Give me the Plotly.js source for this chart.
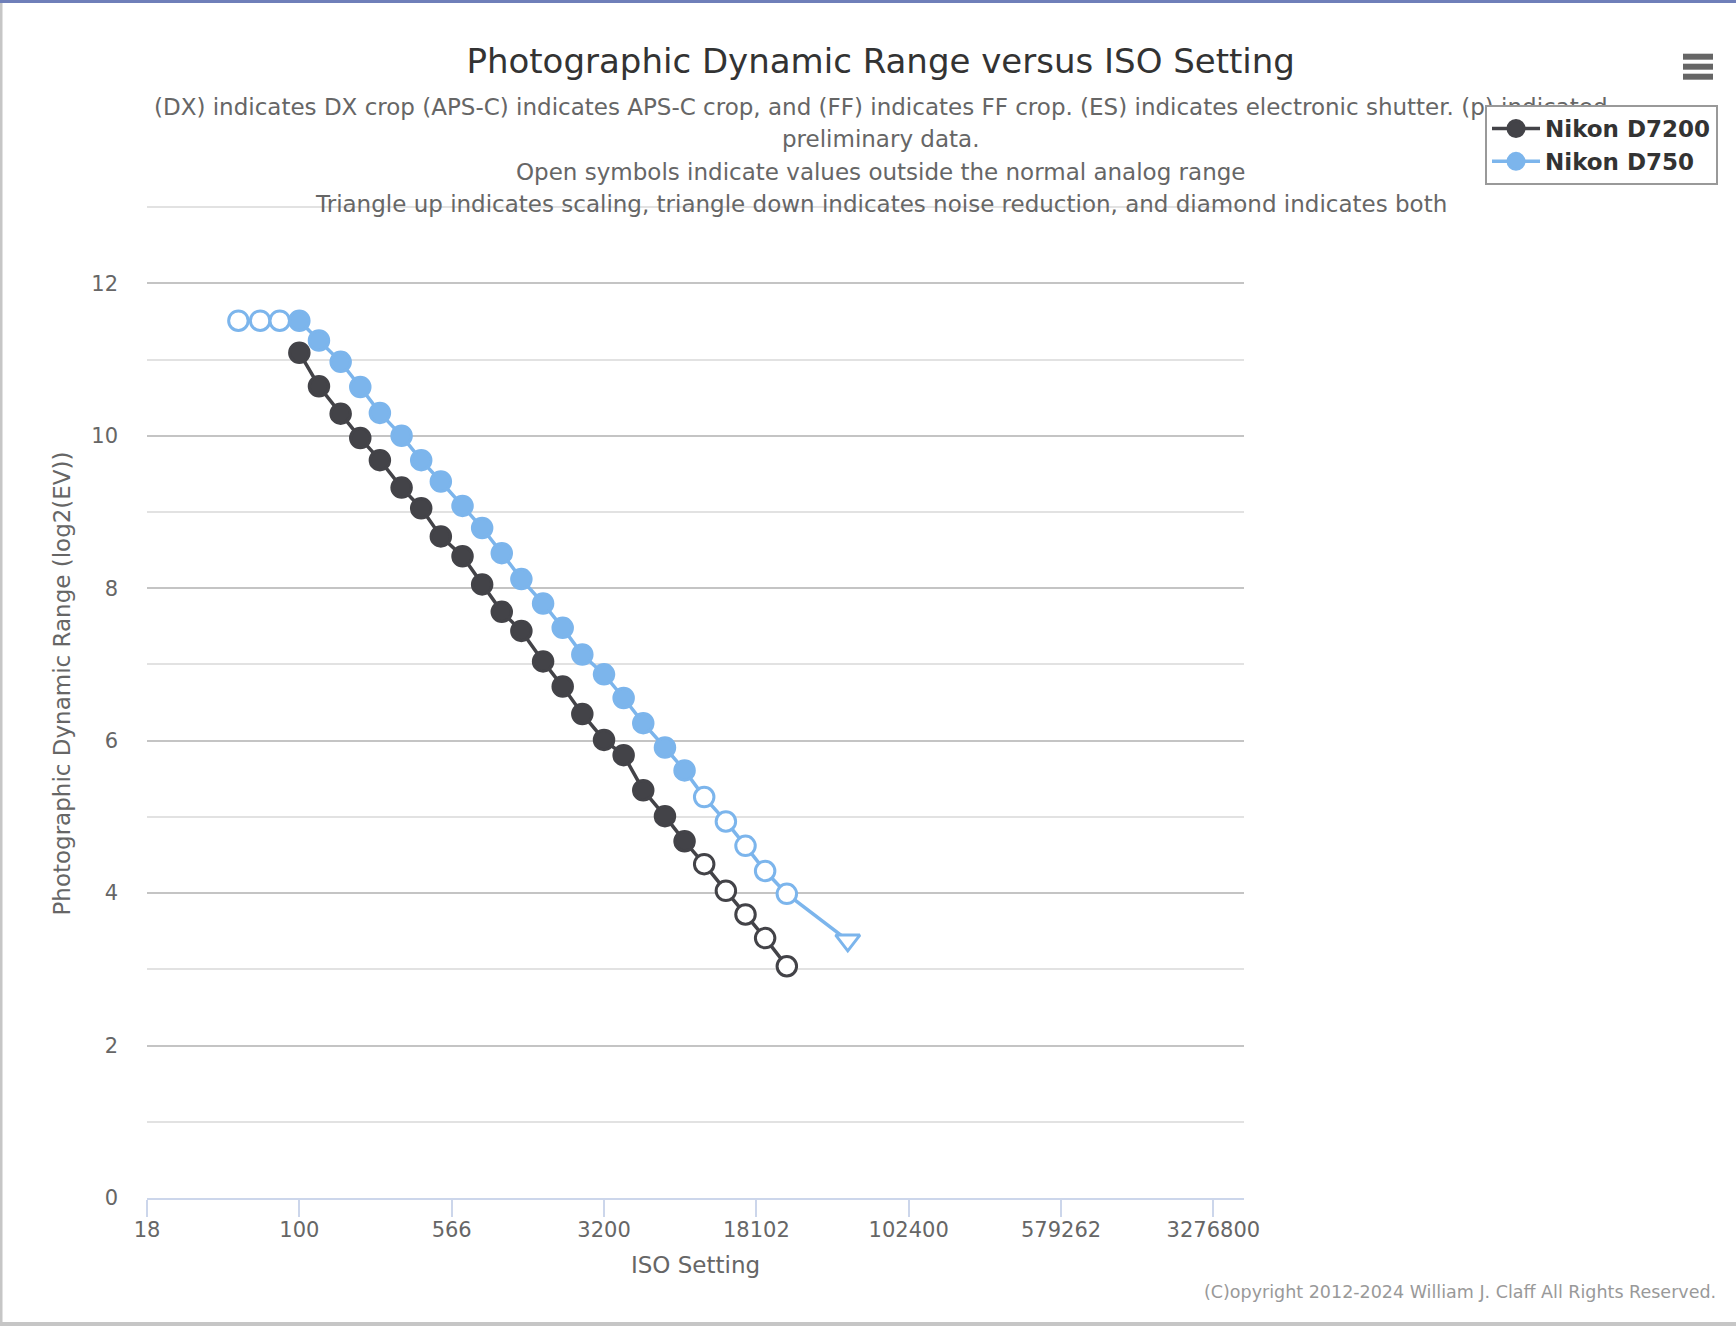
<!DOCTYPE html>
<html>
<head>
<meta charset="utf-8">
<script src="https://cdn.plot.ly/plotly-3.0.1.min.js"></script>
<style>
html, body { margin: 0; padding: 0; background: #ffffff; }
#chart { width: 1736px; height: 1326px; }
</style>
</head>
<body>
<div id="chart"></div>
<script>
// ---------------- data ----------------
const seriesNames = ['Nikon D7200', 'Nikon D750'];

const isoD7200 = [100, 125, 160, 200, 250, 320, 400, 500, 640, 800, 1000, 1250, 1600,
                  2000, 2500, 3200, 4000, 5000, 6400, 8000, 10000, 12800, 16000, 20000, 25600];
const pdrD7200 = [11.09, 10.65, 10.29, 9.97, 9.68, 9.32, 9.05, 8.68, 8.42, 8.05, 7.69, 7.44, 7.04,
                  6.71, 6.35, 6.01, 5.81, 5.35, 5.01, 4.68, 4.38, 4.03, 3.72, 3.41, 3.04];
const kindD7200 = ['solid', 'solid', 'solid', 'solid', 'solid', 'solid', 'solid', 'solid', 'solid', 'solid',
                   'solid', 'solid', 'solid', 'solid', 'solid', 'solid', 'solid', 'solid', 'solid', 'solid',
                   'open', 'open', 'open', 'open', 'open'];

const isoD750 = [50, 64, 80, 100, 125, 160, 200, 250, 320, 400, 500, 640, 800, 1000, 1250, 1600,
                 2000, 2500, 3200, 4000, 5000, 6400, 8000, 10000, 12800, 16000, 20000, 25600, 51200];
const pdrD750 = [11.51, 11.51, 11.51, 11.51, 11.25, 10.97, 10.64, 10.30, 10.00, 9.68, 9.40, 9.08, 8.79,
                 8.46, 8.12, 7.80, 7.48, 7.13, 6.87, 6.56, 6.23, 5.91, 5.61, 5.26, 4.94, 4.62, 4.29, 3.99, 3.38];
const kindD750 = ['open', 'open', 'open', 'solid', 'solid', 'solid', 'solid', 'solid', 'solid', 'solid',
                  'solid', 'solid', 'solid', 'solid', 'solid', 'solid', 'solid', 'solid', 'solid', 'solid',
                  'solid', 'solid', 'solid', 'open', 'open', 'open', 'open', 'open', 'noisereduction'];

const xTickVals = [17.6777, 100, 565.685, 3200, 18101.93, 102400, 579261.9, 3276800];
const xTickText = ['18', '100', '566', '3200', '18102', '102400', '579262', '3276800'];

const titleText = 'Photographic Dynamic Range versus ISO Setting';
const subtitleLines = [
  '(DX) indicates DX crop (APS-C) indicates APS-C crop, and (FF) indicates FF crop. (ES) indicates electronic shutter. (p) indicated',
  'preliminary data.',
  'Open symbols indicate values outside the normal analog range',
  'Triangle up indicates scaling, triangle down indicates noise reduction, and diamond indicates both'
];
const xTitle = 'ISO Setting';
const yTitle = 'Photographic Dynamic Range (log2(EV))';
const creditText = '(C)opyright 2012-2024 William J. Claff All Rights Reserved.';

// ---------------- styling / layout helpers ----------------
const FONT = '"DejaVu Sans", "Lucida Grande", Verdana, sans-serif';
const colors = ['#434348', '#7cb5ec'];
const W = 1736, H = 1326;
const ML = 147, MR = 492, MT = 169, MB = 128;
const PW = W - ML - MR, PH = H - MT - MB;
const xp = px => (px - ML) / PW;
const yp = py => (H - MB - py) / PH;

function markerFor(kinds, color) {
  return {
    symbol: kinds.map(k => k === 'noisereduction' ? 'triangle-down' : 'circle'),
    size: kinds.map(k => k === 'noisereduction' ? 21 : 19.5),
    color: kinds.map(k => k === 'solid' ? color : '#ffffff'),
    opacity: 1,
    line: { color: color, width: 3 }
  };
}

const traces = [
  {
    x: isoD7200, y: pdrD7200, name: seriesNames[0], type: 'scatter', mode: 'lines+markers',
    line: { color: colors[0], width: 3.5 },
    marker: markerFor(kindD7200, colors[0]),
    showlegend: false, cliponaxis: false
  },
  {
    x: isoD750, y: pdrD750, name: seriesNames[1], type: 'scatter', mode: 'lines+markers',
    line: { color: colors[1], width: 3.5 },
    marker: markerFor(kindD750, colors[1]),
    showlegend: false, cliponaxis: false
  },
  // legend entries (no marks drawn)
  {
    x: [null], y: [null], name: seriesNames[0], type: 'scatter', mode: 'lines+markers',
    line: { color: colors[0], width: 3.5 },
    marker: { color: colors[0], size: 19, opacity: 1, line: { color: colors[0], width: 3 } }, showlegend: true
  },
  {
    x: [null], y: [null], name: seriesNames[1], type: 'scatter', mode: 'lines+markers',
    line: { color: colors[1], width: 3.5 },
    marker: { color: colors[1], size: 19, opacity: 1, line: { color: colors[1], width: 3 } }, showlegend: true
  }
];

const annotations = [];
const subY = [107.4, 139.5, 171.6, 203.7];
subtitleLines.forEach((t, i) => {
  annotations.push({
    text: t, xref: 'paper', yref: 'paper', x: xp(880.7), y: yp(subY[i]),
    xanchor: 'center', yanchor: 'middle', showarrow: false,
    font: { family: FONT, size: 23, color: '#666666' }
  });
});
annotations.push({
  text: creditText, xref: 'paper', yref: 'paper', x: xp(1718), y: yp(1292),
  xanchor: 'right', yanchor: 'middle', showarrow: false,
  font: { family: FONT, size: 17.5, color: '#999999' }
});

const shapes = [];
// page frame
shapes.push({ type: 'rect', xref: 'paper', yref: 'paper', x0: xp(0), x1: xp(W), y0: yp(0), y1: yp(3),
  line: { width: 0 }, fillcolor: '#6f7fb9', layer: 'above' });
shapes.push({ type: 'rect', xref: 'paper', yref: 'paper', x0: xp(0), x1: xp(2.5), y0: yp(3), y1: yp(H),
  line: { width: 0 }, fillcolor: '#c6c6c6', layer: 'above' });
shapes.push({ type: 'rect', xref: 'paper', yref: 'paper', x0: xp(0), x1: xp(W), y0: yp(1322), y1: yp(H),
  line: { width: 0 }, fillcolor: '#c6c6c6', layer: 'above' });
// context menu icon
[56.7, 66.7, 76.7].forEach(cy => {
  shapes.push({ type: 'line', xref: 'paper', yref: 'paper', x0: xp(1683), x1: xp(1713), y0: yp(cy), y1: yp(cy),
    line: { color: '#666666', width: 6 }, layer: 'above' });
});

const layout = {
  width: W, height: H,
  margin: { l: ML, r: MR, t: MT, b: MB, pad: 0 },
  paper_bgcolor: '#ffffff', plot_bgcolor: '#ffffff',
  font: { family: FONT, color: '#666666' },
  title: {
    text: titleText, xref: 'container', yref: 'container',
    x: 880.7 / W, y: 1 - 61 / H, xanchor: 'center', yanchor: 'middle',
    font: { family: FONT, size: 34, color: '#333333' }
  },
  xaxis: {
    type: 'log',
    range: [Math.log10(17.6777), 6.6667],
    tickvals: xTickVals, ticktext: xTickText,
    showgrid: false, zeroline: false,
    showline: true, linecolor: '#ccd6eb', linewidth: 2,
    ticks: 'outside', ticklen: 17, tickwidth: 2, tickcolor: '#ccd6eb',
    ticklabelstandoff: -5,
    tickfont: { family: FONT, size: 21, color: '#666666' },
    title: { text: xTitle, standoff: 16, font: { family: FONT, size: 23, color: '#666666' } }
  },
  yaxis: {
    range: [0, 13.5],
    tickvals: [0, 2, 4, 6, 8, 10, 12],
    showgrid: true, gridcolor: '#c4c4c4', gridwidth: 2,
    minor: { tickvals: [1, 3, 5, 7, 9, 11, 13], showgrid: true, gridcolor: '#e2e2e2', gridwidth: 2, ticks: '' },
    zeroline: false, showline: false, ticks: '',
    ticklabelstandoff: 28,
    tickfont: { family: FONT, size: 21, color: '#666666' },
    title: { text: yTitle, standoff: 14, font: { family: FONT, size: 23, color: '#666666' } }
  },
  legend: {
    xref: 'container', yref: 'container',
    x: 1485 / W, y: 1 - 105 / H, xanchor: 'left', yanchor: 'top',
    bgcolor: '#ffffff', bordercolor: '#999999', borderwidth: 2,
    font: { family: FONT, size: 23, color: '#333333', weight: 'bold' },
    itemsizing: 'trace', itemwidth: 48
  },
  annotations: annotations,
  shapes: shapes,
  showlegend: true
};

Plotly.newPlot('chart', traces, layout, { displayModeBar: false, staticPlot: true }).then(() => {
  // draw the legend box above the subtitle text, as in the original chart
  const info = document.querySelector('#chart .infolayer');
  const leg = info && info.querySelector('.legend');
  if (leg) info.appendChild(leg);
});
</script>
</body>
</html>
